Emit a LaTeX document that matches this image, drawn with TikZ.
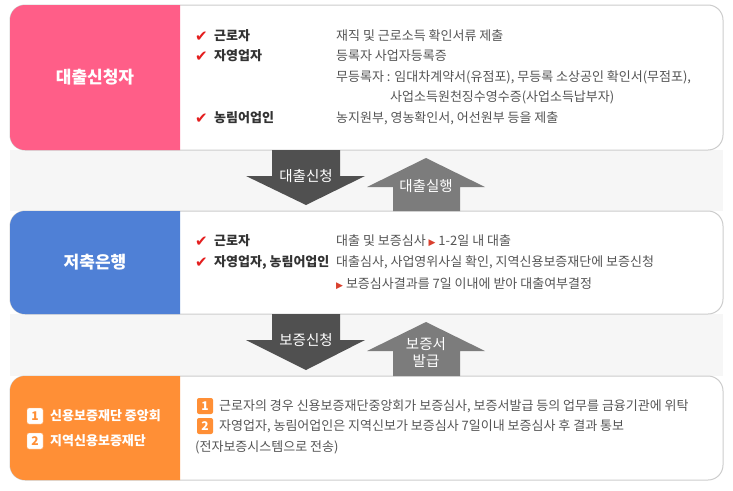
\documentclass[tikz,border=0pt]{standalone}
\usepackage{fontspec}
\setmainfont{Noto Sans CJK KR}
\newfontfamily\symfont{DejaVu Sans}
\definecolor{cpink}{HTML}{FF5E88}
\definecolor{cblue}{HTML}{4F80D6}
\definecolor{corange}{HTML}{FF8F36}
\definecolor{cband}{HTML}{F6F6F6}
\definecolor{cborder}{HTML}{CCCCCC}
\definecolor{ctext}{HTML}{555555}
\definecolor{clabel}{HTML}{333333}
\definecolor{ccheck}{HTML}{E41E1E}
\definecolor{ctri}{HTML}{D9402E}
\definecolor{cdark}{HTML}{505050}
\definecolor{clight}{HTML}{7C7C7C}
\tikzset{
  txt/.style={anchor=west,inner sep=0pt,text=ctext,font=\fontsize{13}{15}\selectfont},
  lbl/.style={anchor=west,inner sep=0pt,text=clabel,font=\fontsize{13}{15}\selectfont\bfseries},
  chk/.style={anchor=west,inner sep=0pt,text=ccheck,font=\symfont\fontsize{15}{16}\selectfont},
  head/.style={inner sep=0pt,text=white,font=\fontsize{17}{19}\selectfont\bfseries},
  arrlbl/.style={inner sep=0pt,text=white,font=\fontsize{14.5}{17}\selectfont,align=center},
  badge/.style={fill=corange,text=white,rounded corners=2pt,minimum size=16pt,inner sep=0pt,font=\fontsize{12}{13}\selectfont\bfseries},
  wbadge/.style={fill=white,draw=corange!70,text=corange,rounded corners=2pt,minimum size=16pt,inner sep=0pt,font=\fontsize{12}{13}\selectfont\bfseries},
  frame/.style={draw=cborder,fill=white,line width=1pt,rounded corners=15pt},
}
\begin{document}
\begin{tikzpicture}[x=1pt,y=-1pt]
\useasboundingbox (0,0) rectangle (733,490);
% bands
\fill[cband] (10,150) rectangle (723,211);
\fill[cband] (10,314) rectangle (723,376);
% boxes
\draw[frame] (10,5) rectangle (723,150);
\draw[frame] (10,211) rectangle (723,314);
\draw[frame] (10,376) rectangle (723,480);
\fill[cpink] [rounded corners=15pt] (180,150) -- (10,150) -- (10,5) [sharp corners] -- (180,5) -- cycle;
\fill[cblue] [rounded corners=15pt] (180,314) -- (10,314) -- (10,211) [sharp corners] -- (180,211) -- cycle;
\fill[corange] [rounded corners=15pt] (180,480) -- (10,480) -- (10,376) [sharp corners] -- (180,376) -- cycle;
% box heads
\node[head] (h1) at (95,77) {대출신청자};
\node[head] (h2) at (95,262) {저축은행};
\node[wbadge] (lb1) at (35,416) {1};
\node[lbl,text=white] (lt1) at (50,416) {신용보증재단 중앙회};
\node[wbadge] (lb2) at (35,441) {2};
\node[lbl,text=white] (lt2) at (50,441) {지역신용보증재단};
% box 1 content
\node[chk] (c11) at (195,37) {✔};
\node[lbl] (l11) at (214,36) {근로자};
\node[txt] (t11) at (336,36) {재직 및 근로소득 확인서류 제출};
\node[chk] (c12) at (195,57) {✔};
\node[lbl] (l12) at (214,56) {자영업자};
\node[txt] (t12) at (336,56) {등록자 사업자등록증};
\node[txt] (t13) at (336,77) {무등록자 : 임대차계약서(유점포), 무등록 소상공인 확인서(무점포),};
\node[txt] (t14) at (390,97) {사업소득원천징수영수증(사업소득납부자)};
\node[chk] (c15) at (195,119) {✔};
\node[lbl] (l15) at (214,118) {농림어업인};
\node[txt] (t15) at (336,118) {농지원부, 영농확인서, 어선원부 등을 제출};
% box 2 content
\node[chk] (c21) at (195,242) {✔};
\node[lbl] (l21) at (214,241) {근로자};
\node[txt] (t21) at (336,241) {대출 및 보증심사 {\symfont\fontsize{9}{10}\selectfont\color{ctri}▶} 1-2일 내 대출};
\node[chk] (c22) at (195,263) {✔};
\node[lbl] (l22) at (214,262) {자영업자, 농림어업인};
\node[txt] (t22) at (336,262) {대출심사, 사업영위사실 확인, 지역신용보증재단에 보증신청};
\node[txt] (t23) at (336,284) {{\symfont\fontsize{9}{10}\selectfont\color{ctri}▶} 보증심사결과를 7일 이내에 받아 대출여부결정};
% box 3 content
\node[badge] (b31) at (205,406) {1};
\node[txt] (t31) at (219,406) {근로자의 경우 신용보증재단중앙회가 보증심사, 보증서발급 등의 업무를 금융기관에 위탁};
\node[badge] (b32) at (205,426) {2};
\node[txt] (t32) at (219,426) {자영업자, 농림어업인은 지역신보가 보증심사 7일이내 보증심사 후 결과 통보};
\node[txt] (t33) at (195,447) {(전자보증시스템으로 전송)};
% arrows band 1
\fill[cdark] (272,150) -- (340,150) -- (340,176) -- (365,176) -- (306,205) -- (246,176) -- (272,176) -- cycle;
\fill[clight] (393,211) -- (393,187) -- (367,187) -- (426,158) -- (485,187) -- (460,187) -- (460,211) -- cycle;
\node[arrlbl] (a1) at (306,176) {대출신청};
\node[arrlbl] (a2) at (426,186) {대출실행};
% arrows band 2
\fill[cdark] (272,314) -- (340,314) -- (340,340) -- (365,340) -- (306,370) -- (246,340) -- (272,340) -- cycle;
\fill[clight] (393,376) -- (393,351) -- (367,351) -- (426,322) -- (485,351) -- (460,351) -- (460,376) -- cycle;
\node[arrlbl] (a3) at (306,340) {보증신청};
\node[arrlbl] (a4) at (426,352) {보증서\\발급};
\end{tikzpicture}
\end{document}
